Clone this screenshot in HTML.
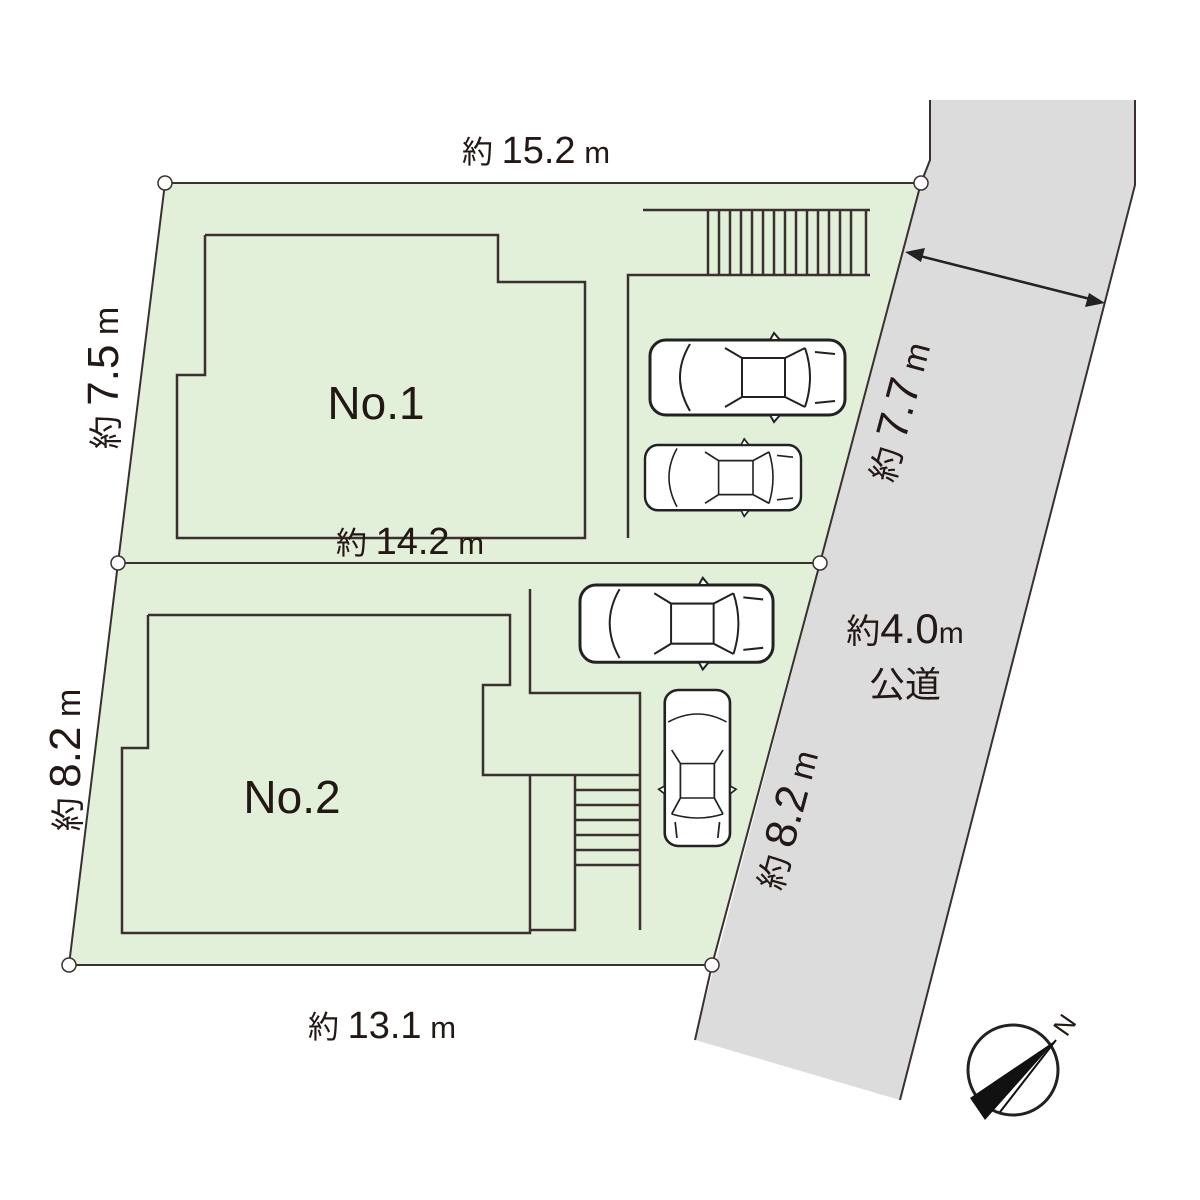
<!DOCTYPE html>
<html><head><meta charset="utf-8"><style>html,body{margin:0;padding:0;background:#fff}svg{display:block}text{font-family:"Liberation Sans","Noto Sans CJK JP",sans-serif;fill:#231815}</style></head>
<body>
<svg width="1200" height="1200" viewBox="0 0 1200 1200" xmlns="http://www.w3.org/2000/svg">
<defs>
<g id="carH">
<rect x="0" y="0" width="195" height="75" rx="16" fill="#fff" stroke="#222" stroke-width="3"/>
<path d="M40 4 Q20 37 40 71 M75 8 L92 18 L135 18 L155 8 M75 67 L92 57 L135 57 L155 67 M92 18 L92 57 M135 18 L135 57 M155 8 Q165 37 155 67 M165 12 L185 14 M165 63 L185 61" fill="none" stroke="#222" stroke-width="2"/>
<path d="M120 0 l4 -7 l6 7 Z M120 75 l4 7 l6 -7 Z" fill="#fff" stroke="#222" stroke-width="2"/>
</g>
</defs>
<polygon points="930,100 1135,100 1135,185 900,1100 695,1040 921,183 930,160" fill="#dcdcdc"/>
<polyline points="930,100 930,160 921,183" fill="none" stroke="#3a3030" stroke-width="2"/>
<polyline points="1135,100 1135,185 900,1100" fill="none" stroke="#3a3030" stroke-width="2"/>
<line x1="712" y1="965" x2="695" y2="1040" stroke="#3a3030" stroke-width="2"/>
<polygon points="165,183 921,183 820,563 118,563" fill="#e2efd9" stroke="#3a3030" stroke-width="2"/>
<polygon points="118,563 820,563 712,965 69,965" fill="#e2efd9" stroke="#3a3030" stroke-width="2"/>
<g fill="none" stroke="#3a3030" stroke-width="2.5">
<polyline points="205,235 498,235 498,282 585,282 585,538 177,538 177,375 205,375 205,235"/>
<polyline points="628,538 628,275 870,275"/>
<polyline points="643,210 870,210"/>
<path d="M708 210V275M719 210V275M730 210V275M741 210V275M752 210V275M763 210V275M774 210V275M785 210V275M796 210V275M807 210V275M818 210V275M829 210V275M840 210V275M851 210V275M866 210V275"/>
<polyline points="148,615 510,615 510,685 483,685 483,775 640,775"/>
<polyline points="148,615 148,748 122,748 122,933 530,933 530,775"/>
<polyline points="530,930 575,930 575,775"/>
<polyline points="530,589 530,693 640,693 640,930"/>
<path d="M575 790H640M575 805H640M575 820H640M575 835H640M575 850H640M575 865H640"/>
</g>
<use href="#carH" transform="translate(650,340)"/>
<use href="#carH" transform="translate(645,445) scale(0.8,0.87)"/>
<use href="#carH" transform="translate(580,585) scale(0.99,1.03)"/>
<use href="#carH" transform="translate(730,690) rotate(90) scale(0.8,0.87)"/>
<g fill="#fff" stroke="#3a3030" stroke-width="1.5">
<circle cx="165" cy="183" r="7"/><circle cx="921" cy="183" r="7"/>
<circle cx="118" cy="563" r="7"/><circle cx="820" cy="563" r="7"/>
<circle cx="69" cy="965" r="7"/><circle cx="712" cy="965" r="7"/>
</g>
<line x1="912" y1="254" x2="1098" y2="301" stroke="#222" stroke-width="2.5"/>
<polygon points="905,252 925,248 921,262" fill="#222"/>
<polygon points="1105,303 1085,307 1089,293" fill="#222"/>
<text x="536" y="163" text-anchor="middle" font-size="38"><tspan font-size="31">約 </tspan>15.2<tspan font-size="31"> m</tspan></text>
<text x="410" y="554" text-anchor="middle" font-size="38"><tspan font-size="31">約 </tspan>14.2<tspan font-size="31"> m</tspan></text>
<text x="382" y="1038" text-anchor="middle" font-size="38"><tspan font-size="31">約 </tspan>13.1<tspan font-size="31"> m</tspan></text>
<text transform="translate(118,378) rotate(-90)" text-anchor="middle" font-size="44"><tspan font-size="34">約 </tspan>7.5<tspan font-size="34"> m</tspan></text>
<text transform="translate(80,760) rotate(-90)" text-anchor="middle" font-size="44"><tspan font-size="34">約 </tspan>8.2<tspan font-size="34"> m</tspan></text>
<text transform="translate(912,415) rotate(-75)" text-anchor="middle" font-size="44"><tspan font-size="34">約 </tspan>7.7<tspan font-size="34"> m</tspan></text>
<text transform="translate(800,823) rotate(-75)" text-anchor="middle" font-size="44"><tspan font-size="34">約 </tspan>8.2<tspan font-size="34"> m</tspan></text>
<text x="905" y="643" text-anchor="middle" font-size="42"><tspan font-size="34">約</tspan>4.0<tspan font-size="30">m</tspan></text>
<text x="905" y="697" text-anchor="middle" font-size="36">公道</text>
<text x="376" y="419" text-anchor="middle" font-size="46">No.1</text>
<text x="292" y="813" text-anchor="middle" font-size="46">No.2</text>
<circle cx="1013" cy="1070" r="45" fill="#fff" stroke="#222" stroke-width="3"/>
<polygon points="970,1098 1056,1040 985,1120" fill="#111"/>
<line x1="1056" y1="1040" x2="1000" y2="1112" stroke="#111" stroke-width="2"/>
<text transform="translate(1072,1030) rotate(-55)" text-anchor="middle" font-size="26">N</text>
</svg>
</body></html>
